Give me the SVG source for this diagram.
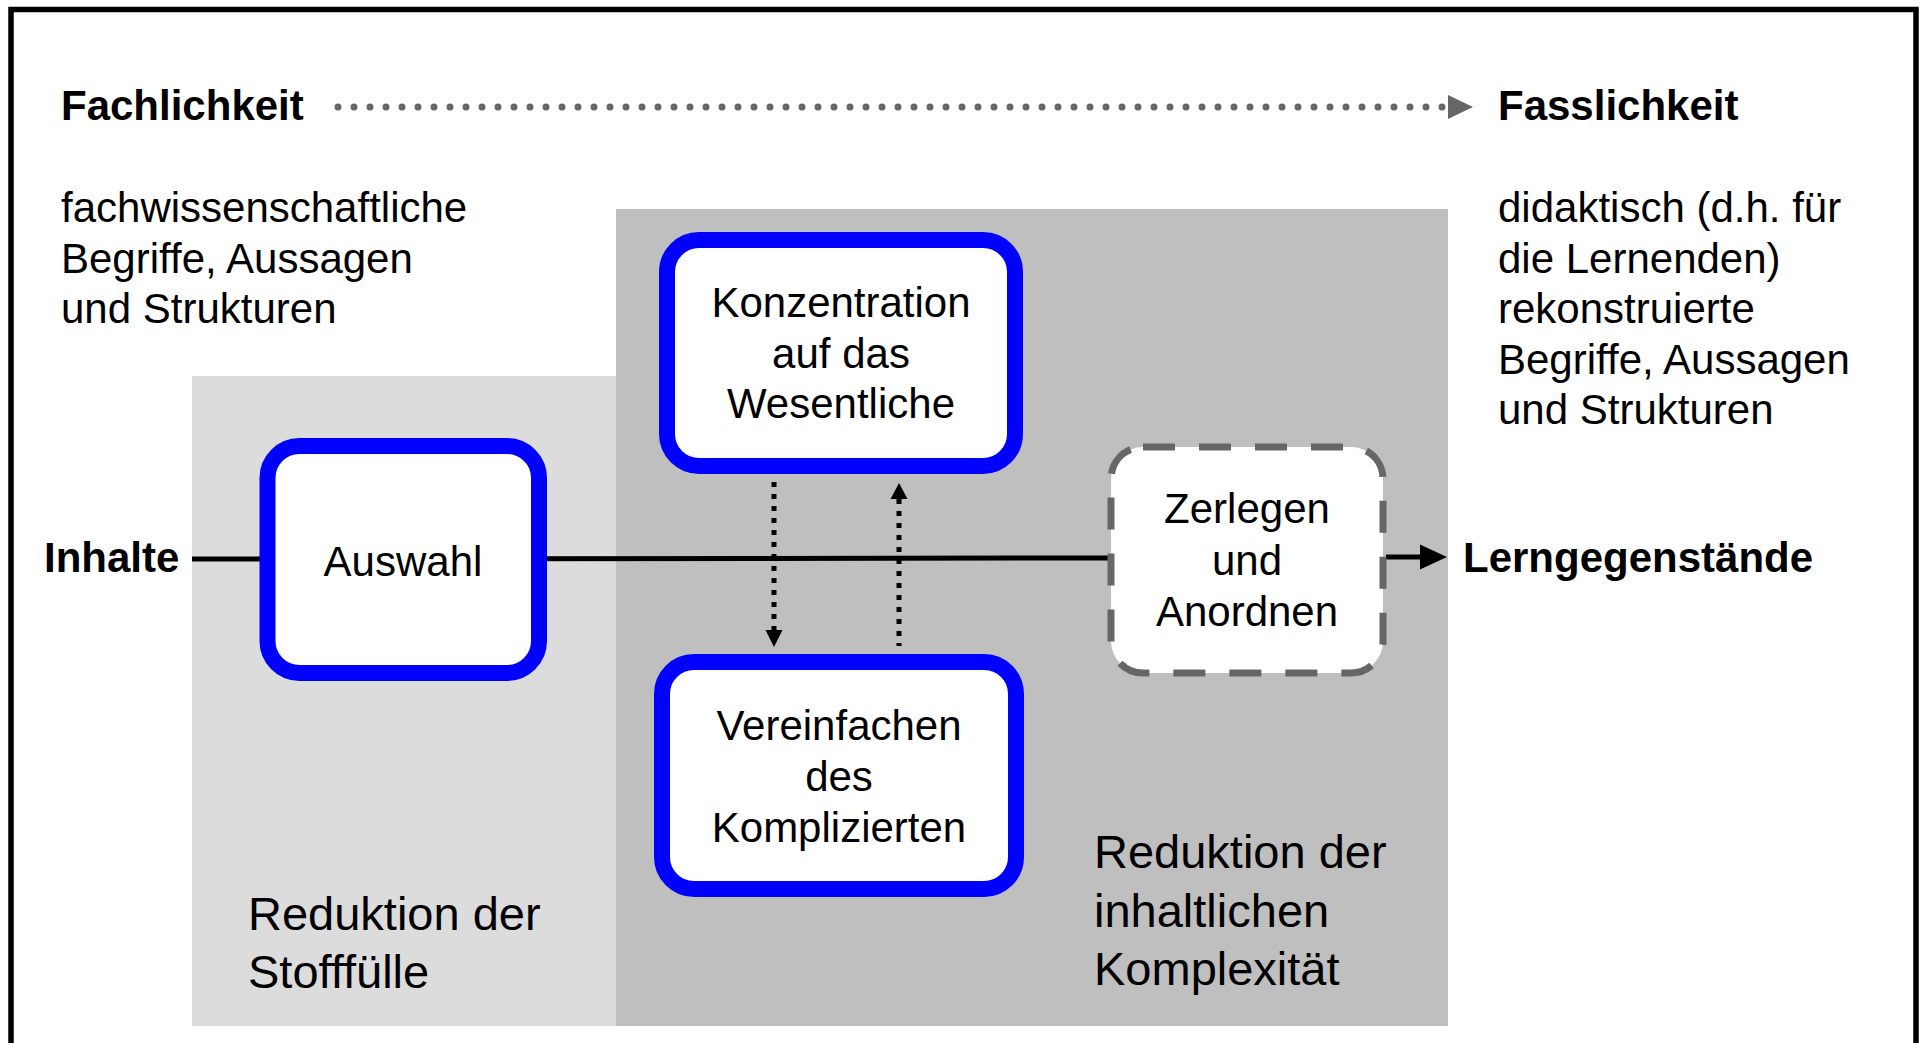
<svg xmlns="http://www.w3.org/2000/svg" width="1925" height="1043" viewBox="0 0 1925 1043">
  <style>
    text { font-family: "Liberation Sans", Arial, sans-serif; fill: #000; }
    .bold { font-weight: bold; font-size: 42px; }
    .body { font-size: 42px; }
    .zone { font-size: 47px; }
    .mid { text-anchor: middle; }
    .step { fill: #fff; stroke: #0000ff; stroke-width: 16; }
    .open { fill: #fff; stroke: #666; stroke-width: 7; stroke-dasharray: 32 24; }
    .flow { stroke: #000; stroke-width: 5; fill: none; }
    .dots { stroke: #000; stroke-width: 5; stroke-dasharray: 5 7; fill: none; }
    .head { fill: #000; }
  </style>

  <rect width="1925" height="1043" fill="#fff"/>

  <!-- frame -->
  <rect x="11" y="9.5" width="1905" height="1100" fill="none" stroke="#000" stroke-width="5.5"/>

  <!-- reduction zones -->
  <rect x="192" y="376" width="424" height="650" fill="#dcdcdc"/>
  <rect x="616" y="209" width="832" height="817" fill="#bfbfbf"/>

  <!-- scale: Fachlichkeit to Fasslichkeit -->
  <g id="scale">
    <line x1="338" y1="107" x2="1446" y2="107" stroke="#666" stroke-width="7" stroke-linecap="round" stroke-dasharray="0 16"/>
    <path d="M1448,95 L1473,107 L1448,119 Z" fill="#666"/>
    <text class="bold" x="61" y="120">Fachlichkeit</text>
    <text class="bold" x="1498" y="120">Fasslichkeit</text>
  </g>

  <g id="source-text">
    <text class="body" x="61" y="222">fachwissenschaftliche</text>
    <text class="body" x="61" y="273">Begriffe, Aussagen</text>
    <text class="body" x="61" y="323">und Strukturen</text>
  </g>

  <g id="target-text">
    <text class="body" x="1498" y="222">didaktisch (d.h. für</text>
    <text class="body" x="1498" y="272.5">die Lernenden)</text>
    <text class="body" x="1498" y="323">rekonstruierte</text>
    <text class="body" x="1498" y="373.5">Begriffe, Aussagen</text>
    <text class="body" x="1498" y="424">und Strukturen</text>
  </g>

  <!-- connectors -->
  <g id="connectors">
    <line class="flow" x1="192" y1="559" x2="1111" y2="558"/>
    <line class="flow" x1="1386" y1="557" x2="1422" y2="557" stroke-width="4.5"/>
    <path class="head" d="M1420,544.5 L1447,557 L1420,569.5 Z"/>
    <line class="dots" x1="774" y1="482" x2="774" y2="630"/>
    <path class="head" d="M765.5,630 L782.5,630 L774,647 Z"/>
    <line class="dots" x1="899" y1="646" x2="899" y2="499" style="stroke-dashoffset:2"/>
    <path class="head" d="M890.5,499 L907.5,499 L899,483 Z"/>
  </g>

  <g id="inhalte">
    <text class="bold" x="44" y="572">Inhalte</text>
  </g>

  <g id="auswahl">
    <rect class="step" x="267.5" y="446" width="271.5" height="227" rx="32"/>
    <text class="body mid" x="403" y="576">Auswahl</text>
  </g>

  <g id="konzentration">
    <rect class="step" x="667" y="240" width="348" height="226" rx="32"/>
    <text class="body mid" x="841" y="317">Konzentration</text>
    <text class="body mid" x="841" y="368">auf das</text>
    <text class="body mid" x="841" y="418">Wesentliche</text>
  </g>

  <g id="vereinfachen">
    <rect class="step" x="662" y="662" width="354" height="227" rx="32"/>
    <text class="body mid" x="839" y="740">Vereinfachen</text>
    <text class="body mid" x="839" y="791">des</text>
    <text class="body mid" x="839" y="842">Komplizierten</text>
  </g>

  <g id="zerlegen">
    <rect class="open" x="1111" y="447" width="272" height="226" rx="32"/>
    <text class="body mid" x="1247" y="523">Zerlegen</text>
    <text class="body mid" x="1247" y="575">und</text>
    <text class="body mid" x="1247" y="626">Anordnen</text>
  </g>

  <g id="lerngegenstaende">
    <text class="bold" x="1463" y="572">Lerngegenstände</text>
  </g>

  <g id="zone-labels">
    <text class="zone" x="248" y="930">Reduktion der</text>
    <text class="zone" x="248" y="988">Stofffülle</text>
    <text class="zone" x="1094" y="868">Reduktion der</text>
    <text class="zone" x="1094" y="927">inhaltlichen</text>
    <text class="zone" x="1094" y="985">Komplexität</text>
  </g>
</svg>
